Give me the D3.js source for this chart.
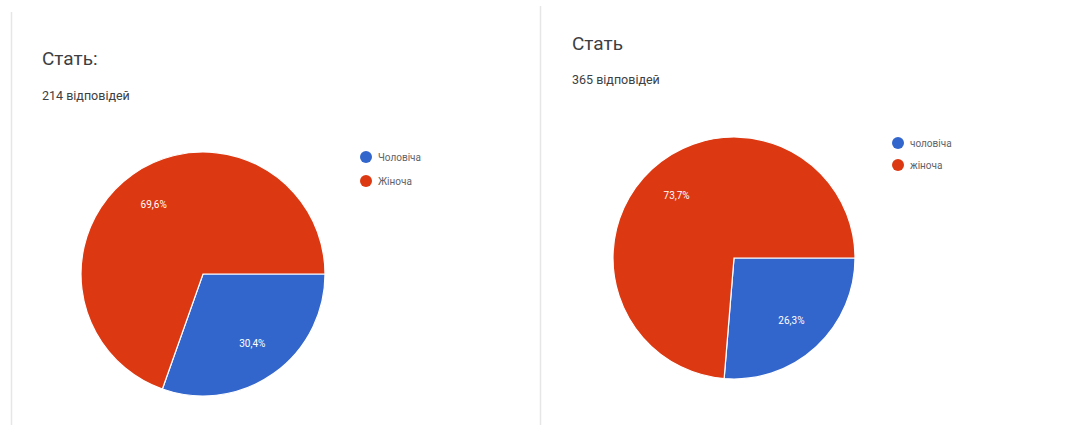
<!DOCTYPE html>
<html>
<head>
<meta charset="utf-8">
<script src="https://cdn.jsdelivr.net/npm/d3@7"></script>
<style>
  html, body { margin: 0; padding: 0; background: #fff; }
  svg { display: block; font-family: Roboto, "Noto Sans", Arial, sans-serif; }
</style>
</head>
<body>
<svg id="chart" width="1069" height="425"></svg>
<script>
// Survey results: gender of respondents, two survey waves
const titles = ["Стать:", "Стать"];
const responseCounts = [214, 365];
const categoriesA = ["Чоловіча", "Жіноча"];
const categoriesB = ["чоловіча", "жіноча"];
const sharesA = [30.4, 69.6];
const sharesB = [26.3, 73.7];
const sliceColors = ["#3366cc", "#dc3912"];

const panels = [
  { title: titles[0], count: responseCounts[0], cats: categoriesA, vals: sharesA,
    x0: 11, textX: 42, titleY: 65, subY: 100, cx: 203, cy: 274, r: 122, legX: 366, legY: 157, legGap: 24 },
  { title: titles[1], count: responseCounts[1], cats: categoriesB, vals: sharesB,
    x0: 540, textX: 572, titleY: 50, subY: 84, cx: 734, cy: 258, r: 121, legX: 898, legY: 143, legGap: 22 }
];

const svg = d3.select("#chart");

// faint card edges
svg.append("line").attr("x1", 11.5).attr("x2", 11.5).attr("y1", 12).attr("y2", 425)
  .attr("stroke", "#e6e6e6").attr("stroke-width", 1.5);
svg.append("line").attr("x1", 540.5).attr("x2", 540.5).attr("y1", 6).attr("y2", 425)
  .attr("stroke", "#e6e6e6").attr("stroke-width", 1.5);

const color = d3.scaleOrdinal().domain([0, 1]).range(sliceColors);

panels.forEach(p => {
  const g = svg.append("g");

  g.append("text").attr("x", p.textX).attr("y", p.titleY)
    .attr("font-size", 19).attr("fill", "#3c4043").text(p.title);
  g.append("text").attr("x", p.textX).attr("y", p.subY)
    .attr("font-size", 12.5).attr("fill", "#3c4043").text(p.count + " відповідей");

  const pie = d3.pie().sort(null).value(d => d)
    .startAngle(Math.PI / 2).endAngle(Math.PI / 2 + 2 * Math.PI);
  const arcs = pie(p.vals);
  const arc = d3.arc().innerRadius(0).outerRadius(p.r);
  const labelArc = d3.arc().innerRadius(p.r * 0.7).outerRadius(p.r * 0.7);

  const pg = g.append("g").attr("transform", `translate(${p.cx},${p.cy})`);
  pg.selectAll("path").data(arcs).join("path")
    .attr("d", arc)
    .attr("fill", (d, i) => color(i))
    .attr("stroke", "#fff").attr("stroke-width", 1.2);

  pg.selectAll("text").data(arcs).join("text")
    .attr("transform", d => `translate(${labelArc.centroid(d)})`)
    .attr("text-anchor", "middle").attr("dy", "0.35em")
    .attr("font-size", 10).attr("fill", "#fff")
    .text(d => d.data.toFixed(1).replace(".", ",") + "%");

  const lg = g.append("g");
  p.cats.forEach((c, i) => {
    lg.append("circle").attr("cx", p.legX).attr("cy", p.legY + i * p.legGap)
      .attr("r", 6).attr("fill", color(i));
    lg.append("text").attr("x", p.legX + 12).attr("y", p.legY + i * p.legGap)
      .attr("dy", "0.35em").attr("font-size", 10).attr("fill", "#5f6368").text(c);
  });
});
</script>
</body>
</html>
